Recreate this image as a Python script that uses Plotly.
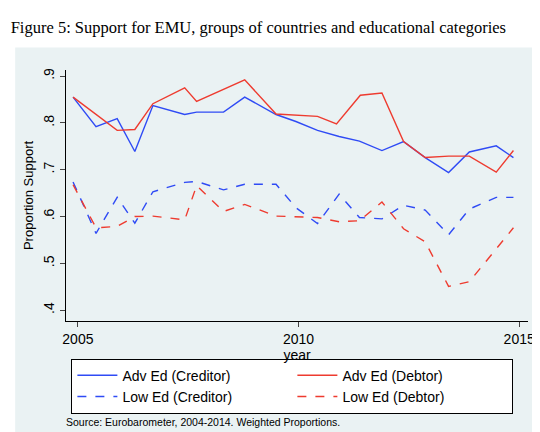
import plotly.graph_objects as go

# values
yr_adv_cred = [2004.89, 2005.41, 2005.89, 2006.29, 2006.70, 2007.42, 2007.69, 2008.30, 2008.78, 2009.49,
               2009.94, 2010.43, 2010.92, 2011.38, 2011.89, 2012.38, 2012.87, 2013.40, 2013.87, 2014.48, 2014.87]
adv_cred = [.855, .792, .809, .739, .837, .818, .823, .823, .855, .818,
            .803, .784, .771, .761, .741, .760, .726, .694, .738, .751, .726]

yr_adv_debt = [2004.89, 2005.89, 2006.29, 2006.70, 2007.42, 2007.69, 2008.78, 2009.49, 2010.43, 2010.86,
               2011.40, 2011.89, 2012.38, 2012.87, 2013.40, 2013.87, 2014.48, 2014.87]
adv_debt = [.855, .784, .786, .841, .875, .846, .892, .819, .814, .798,
            .859, .864, .760, .726, .729, .729, .695, .741]

yr_low_cred = yr_adv_cred
low_cred = [.674, .564, .641, .586, .653, .673, .675, .657, .669, .669,
            .619, .585, .648, .598, .595, .624, .614, .561, .616, .641, .641]

yr_low_debt = [2004.89, 2005.41, 2005.89, 2006.29, 2006.70, 2007.42, 2007.69, 2008.30, 2008.78, 2009.49,
               2010.43, 2010.92, 2011.38, 2011.89, 2012.38, 2012.87, 2013.40, 2013.87, 2014.48, 2014.87]
low_debt = [.668, .576, .579, .600, .601, .593, .666, .611, .626, .601,
            .598, .589, .591, .631, .574, .546, .451, .461, .531, .576]

BLUE = "#2f4bf5"
RED = "#ee3b2f"

fig = go.Figure()
fig.add_trace(go.Scatter(x=yr_adv_cred, y=adv_cred, mode="lines", name="Adv Ed (Creditor)",
                         line=dict(color=BLUE, width=1.4)))
fig.add_trace(go.Scatter(x=yr_adv_debt, y=adv_debt, mode="lines", name="Adv Ed (Debtor)",
                         line=dict(color=RED, width=1.4)))
fig.add_trace(go.Scatter(x=yr_low_cred, y=low_cred, mode="lines", name="Low Ed (Creditor)",
                         line=dict(color=BLUE, width=1.4, dash="dash")))
fig.add_trace(go.Scatter(x=yr_low_debt, y=low_debt, mode="lines", name="Low Ed (Debtor)",
                         line=dict(color=RED, width=1.4, dash="dash")))

# grey Stata-style graph region
fig.add_shape(type="rect", xref="paper", yref="paper", x0=-0.11, x1=1.03, y0=-0.45, y1=1.09,
              fillcolor="#eaf2f3", line_width=0, layer="below")

fig.update_layout(
    width=540, height=432,
    paper_bgcolor="white", plot_bgcolor="white",
    margin=dict(l=58, r=20, t=62, b=119),
    font=dict(family="Liberation Sans, Arial", color="black", size=14),
    title=dict(text="Figure 5: Support for EMU, groups of countries and educational categories",
               x=0.005, xanchor="left", y=0.97, yanchor="top",
               font=dict(family="Liberation Serif, serif", size=16.5)),
    legend=dict(orientation="h", x=0.49, xanchor="center", y=-0.15, yanchor="top",
                bgcolor="white", bordercolor="black", borderwidth=1, entrywidth=165,
                font=dict(size=14), tracegroupgap=0, itemwidth=40),
    annotations=[dict(text="Source: Eurobarometer, 2004-2014. Weighted Proportions.",
                      xref="paper", yref="paper", x=-0.005, y=-0.37, xanchor="left", yanchor="top",
                      showarrow=False, font=dict(size=10.5))],
)
fig.update_xaxes(range=[2004.73, 2015.2], tickvals=[2005, 2010, 2015], ticks="outside", ticklen=5,
                 showline=True, linecolor="black", showgrid=False, zeroline=False,
                 title=dict(text="year", standoff=0, font=dict(size=14)))
fig.update_yaxes(range=[0.377, 0.913], tickvals=[.4, .5, .6, .7, .8, .9],
                 ticktext=[".4", ".5", ".6", ".7", ".8", ".9"], tickangle=-90,
                 ticks="outside", ticklen=5, showline=True, linecolor="black",
                 showgrid=True, gridcolor="#eaf2f3", zeroline=False,
                 title=dict(text="Proportion Support", standoff=4, font=dict(size=13)))

fig.write_html("out.html")
